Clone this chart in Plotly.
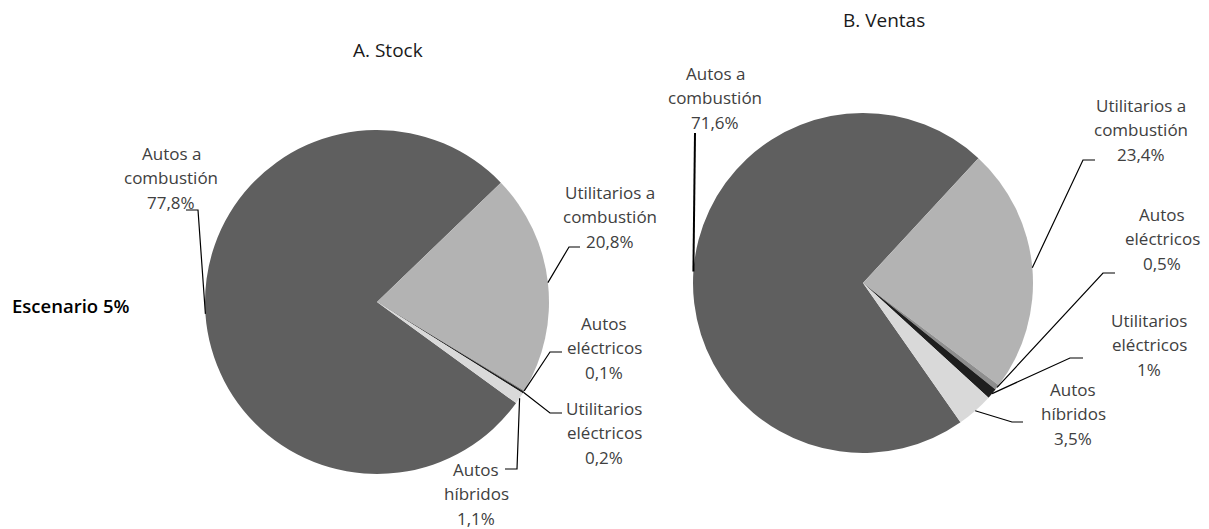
import math
import plotly.graph_objects as go

# ---------------- data ----------------
categorias = ["Autos a combustión", "Utilitarios a combustión", "Autos eléctricos",
              "Utilitarios eléctricos", "Autos híbridos"]
etiquetas = [["Autos a", "combustión"], ["Utilitarios a", "combustión"], ["Autos", "eléctricos"],
             ["Utilitarios", "eléctricos"], ["Autos", "híbridos"]]
stock = [77.8, 20.8, 0.1, 0.2, 1.1]
ventas = [71.6, 23.4, 0.5, 1.0, 3.5]
stock_txt = ["77,8%", "20,8%", "0,1%", "0,2%", "1,1%"]
ventas_txt = ["71,6%", "23,4%", "0,5%", "1%", "3,5%"]
titulos = ["A. Stock", "B. Ventas"]
escenario = "Escenario 5%"

# ---------------- styling / layout (page pixel coordinates) ----------------
W, H = 1209, 529
OFF = 8  # default body margin of the html page
colores = ["#5f5f5f", "#b3b3b3", "#8e8e8e", "#1e1e1e", "#d9d9d9"]
FONT = "Open Sans"
TXT = "#404040"
LH = 24.5

pies = [
    dict(values=stock, txt=stock_txt, cx=377, cy=302, r=172, rot=126,
         title_xy=(388, 50),
         labels=[(171, 153), (610, 192), (604, 323), (604, 408), (476, 469)],
         lines=[[(198, 210), (186, 210)],
                [(569, 247), (580, 247)],
                [(550, 352), (562, 352)],
                [(550, 413), (562, 413)],
                [(517, 469), (505, 469)]],
         lw=[1.2, 1.2, 1.2, 1.2, 1.2]),
    dict(values=ventas, txt=ventas_txt, cx=863, cy=283, r=170, rot=145,
         title_xy=(884, 20),
         labels=[(715, 73), (1141, 105), (1162, 214), (1149, 320), (1073, 389)],
         lines=[[(695, 133)],
                [(1083, 160), (1095, 160)],
                [(1103, 273), (1115, 273)],
                [(1070, 358), (1083, 358)],
                [(1012, 422), (1023, 422)]],
         lw=[2.0, 1.2, 1.2, 1.2, 1.2]),
]

fig = go.Figure()
shapes = []
annotations = []
FW, FH = W - OFF, H - OFF

for k, p in enumerate(pies):
    cx, cy, r = p["cx"], p["cy"], p["r"]
    fig.add_trace(go.Pie(
        labels=categorias, values=p["values"], sort=False, direction="clockwise",
        rotation=p["rot"], textinfo="none", hoverinfo="label+percent",
        marker=dict(colors=colores, line=dict(width=0)),
        domain=dict(x=[(cx - r - OFF) / FW, (cx + r - OFF) / FW],
                    y=[1 - (cy + r - OFF) / FH, 1 - (cy - r - OFF) / FH]),
        showlegend=False,
    ))
    total = sum(p["values"])
    acc = 0.0
    for i, v in enumerate(p["values"]):
        mid = p["rot"] + (acc + v / 2) / total * 360.0
        acc += v
        a = math.radians(mid)
        ax, ay = cx + r * math.sin(a), cy - r * math.cos(a)
        pts = [(ax, ay)] + p["lines"][i]
        path = "M " + " L ".join(f"{x:.1f},{y:.1f}" for x, y in pts)
        shapes.append(dict(type="path", path=path, xref="x", yref="y", layer="above",
                           line=dict(color="#000000", width=p["lw"][i])))
        lx, ly = p["labels"][i]
        for j, t in enumerate(etiquetas[i] + [p["txt"][i]]):
            annotations.append(dict(x=lx, y=ly + j * LH, xref="x", yref="y", text=t,
                                    showarrow=False, xanchor="center", yanchor="middle",
                                    font=dict(family=FONT, size=17, color=TXT)))
    tx, ty = p["title_xy"]
    annotations.append(dict(x=tx, y=ty, xref="x", yref="y", text=titulos[k],
                            showarrow=False, xanchor="center", yanchor="middle",
                            font=dict(family=FONT, size=19, color="#1a1a1a")))

annotations.append(dict(x=10, y=305, xref="x", yref="y", text=escenario, showarrow=False,
                        xanchor="left", yanchor="middle",
                        font=dict(family=FONT, size=18.5, color="#000000", weight=600)))

fig.update_layout(
    width=FW, height=FH, autosize=False,
    margin=dict(l=0, r=0, t=0, b=0),
    paper_bgcolor="white", plot_bgcolor="rgba(0,0,0,0)",
    xaxis=dict(range=[OFF, W], visible=False, fixedrange=True, domain=[0, 1]),
    yaxis=dict(range=[H, OFF], visible=False, fixedrange=True, domain=[0, 1]),
    shapes=shapes, annotations=annotations,
)

fig.write_html("out.html")
